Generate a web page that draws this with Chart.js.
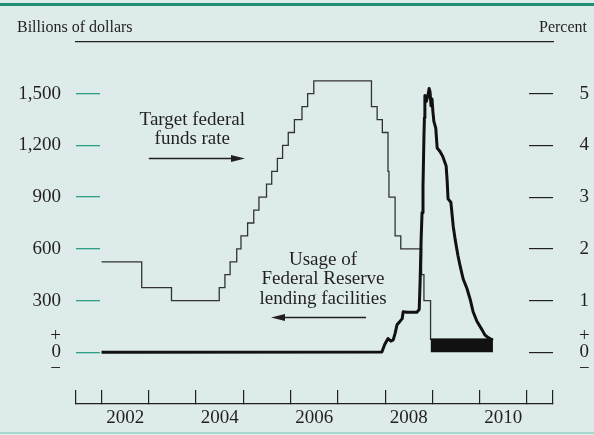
<!DOCTYPE html>
<html>
<head>
<meta charset="utf-8">
<script src="https://cdn.jsdelivr.net/npm/chart.js@4.4.1/dist/chart.umd.min.js"></script>
<style>
  html, body { margin: 0; padding: 0; background: #ddecea; }
  #chart { display: block; }
</style>
</head>
<body>
<canvas id="chart" width="594" height="435"></canvas>
<script>
// ---- values ----

// Target federal funds rate (percent); date = decimal year the new rate takes effect
const fundsDates = [2002.00, 2002.85, 2003.48, 2004.49, 2004.61, 2004.72, 2004.86, 2004.95,
  2005.09, 2005.22, 2005.33, 2005.49, 2005.60, 2005.72, 2005.83, 2005.95, 2006.08, 2006.24,
  2006.36, 2006.49, 2007.71, 2007.83, 2007.94, 2008.06, 2008.08, 2008.21, 2008.33, 2008.77,
  2008.82, 2008.96, 2010.28];
const fundsRate = [1.75, 1.25, 1.00, 1.25, 1.50, 1.75, 2.00, 2.25,
  2.50, 2.75, 3.00, 3.25, 3.50, 3.75, 4.00, 4.25, 4.50, 4.75,
  5.00, 5.25, 4.75, 4.50, 4.25, 3.50, 3.00, 2.25, 2.00, 1.50,
  1.00, 0.25, 0.25];

// 0 to 1/4 percent target range (drawn as a solid band)
const rangeDates = [2008.96, 2010.28];
const rangeTop = [0.25, 0.25];

// Usage of Federal Reserve lending facilities (billions of dollars)
const lendDates = [2002.00, 2007.93, 2007.99, 2008.06, 2008.12, 2008.17, 2008.21, 2008.25,
  2008.30, 2008.36, 2008.38, 2008.46, 2008.67, 2008.72, 2008.74, 2008.76, 2008.78, 2008.80,
  2008.82, 2008.83, 2008.84, 2008.87, 2008.90, 2008.93, 2008.95, 2008.97, 2008.99, 2009.01,
  2009.03, 2009.07, 2009.10, 2009.16, 2009.22, 2009.29, 2009.31, 2009.33, 2009.39, 2009.44,
  2009.48, 2009.54, 2009.59, 2009.65, 2009.73, 2009.80, 2009.86, 2009.94, 2010.05, 2010.11,
  2010.18, 2010.28];
const lendValues = [0, 2, 45, 80, 65, 72, 110, 160,
  175, 195, 235, 232, 232, 248, 420, 650, 810, 960,
  1250, 1360, 1490, 1455, 1485, 1530, 1510, 1430, 1470, 1395,
  1340, 1300, 1185, 1165, 1135, 1080, 1000, 890, 870, 730,
  655, 560, 495, 425, 370, 305, 235, 180, 130, 100,
  85, 70];

// axes
const yearTicks = [2002, 2003, 2004, 2005, 2006, 2007, 2008, 2009, 2010, 2011];
const yearLabels = ['2002', '2004', '2006', '2008', '2010'];
const dollarTicks = [0, 300, 600, 900, 1200, 1500];
const percentTicks = [0, 1, 2, 3, 4, 5];

const X_MIN = 2001.46, X_MAX = 2011.55;
const INK = '#231f20';
const TEAL = '#2f9f86';
const FONT = "'Liberation Serif', 'Times New Roman', serif";

Chart.defaults.font.family = FONT;
Chart.defaults.color = INK;

function zip(xs, ys) {
  return xs.map((x, i) => ({ x: x, y: ys[i] }));
}

// fixed box sizes so the plot area lands where the original has it
function fixBox(size) {
  return s => {
    if (s.isHorizontal()) s.height = size; else s.width = size;
    s.paddingTop = s.paddingBottom = s.paddingLeft = s.paddingRight = 0;
  };
}

// annotation text and arrows, placed in data units
const notes = [
  { lines: ['Target federal', 'funds rate'], x: 2003.92, y: 1318, arrowFrom: 2003.0, arrowTo: 2005.035, arrowY: 1127 },
  { lines: ['Usage of', 'Federal Reserve', 'lending facilities'], x: 2006.685, y: 506, arrowFrom: 2007.595, arrowTo: 2005.585, arrowY: 205 }
];

const framePlugin = {
  id: 'frame',
  beforeDraw(chart) {
    const ctx = chart.ctx;
    ctx.save();
    ctx.fillStyle = '#ddecea';
    ctx.fillRect(0, 0, chart.width, chart.height);
    ctx.fillStyle = '#1f8f74';
    ctx.fillRect(0, 3, chart.width, 3);
    ctx.fillStyle = '#a6d8cf';
    ctx.fillRect(0, chart.height - 3, chart.width, 2);
    ctx.restore();
  },
  afterDraw(chart) {
    const ctx = chart.ctx;
    const xs = chart.scales.x, ys = chart.scales.y;
    ctx.save();
    ctx.fillStyle = INK;
    ctx.strokeStyle = INK;
    ctx.font = '16px ' + FONT;
    ctx.textBaseline = 'alphabetic';
    ctx.textAlign = 'left';
    ctx.fillText('Billions of dollars', 17, 32);
    ctx.textAlign = 'right';
    ctx.fillText('Percent', 587, 32);

    ctx.font = '19px ' + FONT;
    ctx.textAlign = 'center';
    notes.forEach(n => {
      const px = xs.getPixelForValue(n.x);
      const py = ys.getPixelForValue(n.y);
      n.lines.forEach((t, i) => ctx.fillText(t, px, py + i * 19.3));
      const ay = Math.round(ys.getPixelForValue(n.arrowY)) + 0.5;
      const a0 = xs.getPixelForValue(n.arrowFrom);
      const a1 = xs.getPixelForValue(n.arrowTo);
      const dir = a1 > a0 ? 1 : -1;
      ctx.lineWidth = 1.3;
      ctx.beginPath();
      ctx.moveTo(a0, ay);
      ctx.lineTo(a1 - dir * 10, ay);
      ctx.stroke();
      ctx.beginPath();
      ctx.moveTo(a1, ay);
      ctx.lineTo(a1 - dir * 14, ay - 3.6);
      ctx.lineTo(a1 - dir * 14, ay + 3.6);
      ctx.closePath();
      ctx.fill();
    });
    ctx.restore();
  }
};

new Chart(document.getElementById('chart'), {
  type: 'line',
  data: {
    datasets: [
      {
        label: 'Usage of Federal Reserve lending facilities',
        data: zip(lendDates, lendValues),
        yAxisID: 'y',
        borderColor: '#111',
        borderWidth: 3,
        pointRadius: 0,
        tension: 0,
        borderJoinStyle: 'round'
      },
      {
        label: 'Target range',
        data: zip(rangeDates, rangeTop),
        yAxisID: 'y1',
        borderColor: '#111',
        borderWidth: 1.5,
        backgroundColor: '#111',
        fill: 'origin',
        pointRadius: 0
      },
      {
        label: 'Target federal funds rate',
        data: zip(fundsDates, fundsRate),
        yAxisID: 'y1',
        borderColor: '#333',
        borderWidth: 1.3,
        stepped: true,
        pointRadius: 0
      }
    ]
  },
  options: {
    responsive: false,
    animation: false,
    layout: { padding: 0 },
    plugins: {
      legend: { display: false },
      tooltip: { enabled: false }
    },
    scales: {
      x: {
        type: 'linear',
        position: 'bottom',
        min: X_MIN,
        max: X_MAX,
        afterBuildTicks: s => {
          const vals = [X_MIN, ...yearTicks, ...yearLabels.map(y => +y + 0.5), X_MAX].sort((a, b) => a - b);
          s.ticks = vals.map(v => ({ value: v }));
        },
        afterFit: fixBox(31),
        ticks: {
          autoSkip: false,
          maxRotation: 0,
          padding: 17,
          color: INK,
          font: { size: 19, lineHeight: 1.2 },
          callback: v => yearLabels.find(y => +y + 0.5 === v) || ''
        },
        grid: {
          drawOnChartArea: false,
          tickLength: -14,
          lineWidth: 1.2,
          color: c => (c.tick && (Number.isInteger(c.tick.value) || c.tick.value === X_MIN || c.tick.value === X_MAX)) ? INK : 'transparent'
        },
        border: { color: INK, width: 1.3 }
      },
      xTop: {
        type: 'linear',
        position: 'top',
        min: X_MIN,
        max: X_MAX,
        afterFit: fixBox(42),
        ticks: { display: false },
        grid: { drawOnChartArea: false, drawTicks: false, color: 'transparent' },
        border: { color: INK, width: 1.3 }
      },
      y: {
        position: 'left',
        min: -300,
        max: 1800,
        afterBuildTicks: s => { s.ticks = dollarTicks.map(v => ({ value: v })); },
        afterFit: fixBox(76),
        ticks: {
          padding: 39,
          color: INK,
          font: { size: 19, lineHeight: 0.87 },
          callback: v => v === 0 ? ['+', '0', '\u2212'] : v.toLocaleString('en-US')
        },
        grid: { drawOnChartArea: false, tickLength: -24, color: TEAL, lineWidth: 1.3 },
        border: { display: false }
      },
      y1: {
        position: 'right',
        min: -1,
        max: 6,
        afterBuildTicks: s => { s.ticks = percentTicks.map(v => ({ value: v })); },
        afterFit: fixBox(41),
        ticks: {
          padding: 50,
          crossAlign: 'center',
          color: INK,
          font: { size: 19, lineHeight: 0.87 },
          callback: v => v === 0 ? ['+', '0', '\u2212'] : String(v)
        },
        grid: { drawOnChartArea: false, tickLength: -24, color: INK, lineWidth: 1.2 },
        border: { display: false }
      }
    }
  },
  plugins: [framePlugin]
});
</script>
</body>
</html>
